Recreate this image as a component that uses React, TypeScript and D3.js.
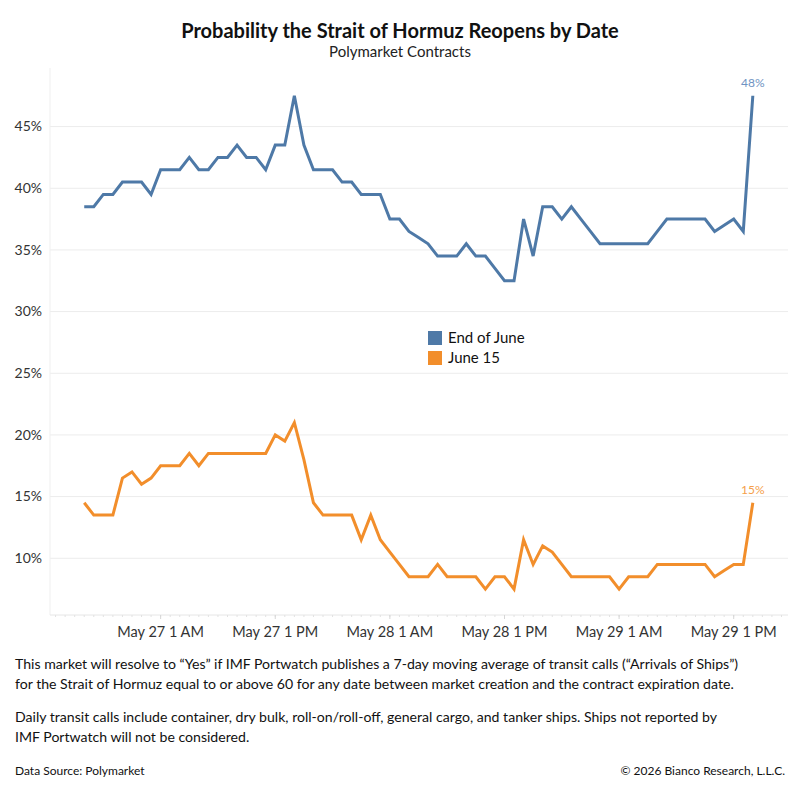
import * as d3 from 'd3';

// hourly Polymarket prices (%), May 26 5 PM -> May 29 3 PM
const startTime = new Date(2026, 4, 26, 17);
const endOfJune = [
  38.5, 38.5, 39.5, 39.5, 40.5, 40.5, 40.5, 39.5, 41.5, 41.5,
  41.5, 42.5, 41.5, 41.5, 42.5, 42.5, 43.5, 42.5, 42.5, 41.5,
  43.5, 43.5, 47.5, 43.5, 41.5, 41.5, 41.5, 40.5, 40.5, 39.5,
  39.5, 39.5, 37.5, 37.5, 36.5, 36.0, 35.5, 34.5, 34.5, 34.5,
  35.5, 34.5, 34.5, 33.5, 32.5, 32.5, 37.5, 34.5, 38.5, 38.5,
  37.5, 38.5, 37.5, 36.5, 35.5, 35.5, 35.5, 35.5, 35.5, 35.5,
  36.5, 37.5, 37.5, 37.5, 37.5, 37.5, 36.5, 37.0, 37.5, 36.5,
  47.5,
];
const june15 = [
  14.5, 13.5, 13.5, 13.5, 16.5, 17.0, 16.0, 16.5, 17.5, 17.5,
  17.5, 18.5, 17.5, 18.5, 18.5, 18.5, 18.5, 18.5, 18.5, 18.5,
  20.0, 19.5, 21.0, 18.0, 14.5, 13.5, 13.5, 13.5, 13.5, 11.5,
  13.5, 11.5, 10.5, 9.5, 8.5, 8.5, 8.5, 9.5, 8.5, 8.5,
  8.5, 8.5, 7.5, 8.5, 8.5, 7.5, 11.5, 9.5, 11.0, 10.5,
  9.5, 8.5, 8.5, 8.5, 8.5, 8.5, 7.5, 8.5, 8.5, 8.5,
  9.5, 9.5, 9.5, 9.5, 9.5, 9.5, 8.5, 9.0, 9.5, 9.5,
  14.5,
];
const endLabels = ['48%', '15%'];
const seriesNames = ['End of June', 'June 15'];
const colors = ['#4e79a7', '#f28e2b'];
const labelColors = ['#6f93c2', '#f5a04a'];
const yTicks = [10, 15, 20, 25, 30, 35, 40, 45];

const title = 'Probability the Strait of Hormuz Reopens by Date';
const subtitle = 'Polymarket Contracts';
const notes = [
  [
    'This market will resolve to \u201cYes\u201d if IMF Portwatch publishes a 7-day moving average of transit calls (\u201cArrivals of Ships\u201d)',
    'for the Strait of Hormuz equal to or above 60 for any date between market creation and the contract expiration date.',
  ],
  [
    'Daily transit calls include container, dry bulk, roll-on/roll-off, general cargo, and tanker ships. Ships not reported by',
    'IMF Portwatch will not be considered.',
  ],
];
const source = 'Data Source: Polymarket';
const copyright = '\u00a9 2026 Bianco Research, L.L.C.';

const W = 800;
const H = 800;
const left = 50;
const right = 788;
const top = 68;
const bottom = 615;
const font = 'Lato, "Open Sans", sans-serif';

export default function App() {
  const times = endOfJune.map((_, i) => d3.timeHour.offset(startTime, i));

  const x = d3
    .scaleTime()
    .domain([new Date(2026, 4, 26, 13, 25), new Date(2026, 4, 29, 18, 41)])
    .range([left, right]);
  const y = d3.scaleLinear().domain([5.4, 49.75]).range([bottom, top]);

  const line = d3
    .line<number>()
    .x((_, i) => x(times[i]))
    .y((d) => y(d));

  const minorTicks = d3.timeHour.range(x.domain()[0], x.domain()[1]);
  const majorTicks = minorTicks.filter((t) => t.getHours() === 1 || t.getHours() === 13);
  const fmt = (t: Date) => {
    const h = t.getHours();
    return `${d3.timeFormat('%b %-d')(t)} ${h % 12 === 0 ? 12 : h % 12} ${h < 12 ? 'AM' : 'PM'}`;
  };

  const series = [endOfJune, june15];
  const last = times.length - 1;

  return (
    <svg
      width={W}
      height={H}
      style={{ position: 'absolute', left: 0, top: 0, background: '#fff' }}
      fontFamily={font}
    >
      <text x={400} y={38} textAnchor="middle" fontSize={20} fontWeight={700} fill="#111">
        {title}
      </text>
      <text x={400} y={57} textAnchor="middle" fontSize={15} fill="#222">
        {subtitle}
      </text>

      {/* grid */}
      {yTicks.map((t) => (
        <g key={t}>
          <line x1={left} x2={right} y1={y(t)} y2={y(t)} stroke="#ececec" strokeWidth={1} />
          <text x={42} y={y(t)} dy="0.35em" textAnchor="end" fontSize={14} fill="#333">
            {t}%
          </text>
        </g>
      ))}
      <line x1={left} x2={left} y1={top} y2={bottom} stroke="#efefef" />
      <line x1={left} x2={right} y1={bottom} y2={bottom} stroke="#e6e6e6" />

      {/* x axis */}
      {minorTicks.map((t) => (
        <line key={+t} x1={x(t)} x2={x(t)} y1={bottom} y2={bottom + 2} stroke="#e2e2e2" />
      ))}
      {majorTicks.map((t) => (
        <g key={+t}>
          <line x1={x(t)} x2={x(t)} y1={bottom} y2={bottom + 4} stroke="#d6d6d6" />
          <text x={x(t)} y={637} textAnchor="middle" fontSize={14.5} fill="#333">
            {fmt(t)}
          </text>
        </g>
      ))}

      {/* lines */}
      {series.map((s, k) => (
        <g key={k}>
          <path d={line(s) ?? ''} fill="none" stroke={colors[k]} strokeWidth={3} strokeLinejoin="miter" />
          <text
            x={x(times[last])}
            y={y(s[last]) - 9}
            textAnchor="middle"
            fontSize={12}
            fill={labelColors[k]}
          >
            {endLabels[k]}
          </text>
        </g>
      ))}

      {/* legend */}
      {seriesNames.map((n, k) => (
        <g key={n} transform={`translate(428,${331 + k * 20})`}>
          <rect width={14} height={14} fill={colors[k]} />
          <text x={20} y={12} fontSize={15} fill="#111">
            {n}
          </text>
        </g>
      ))}

      {/* notes */}
      {notes.map((p, i) =>
        p.map((l, j) => (
          <text key={`${i}-${j}`} x={15} y={669 + i * 53 + j * 20} fontSize={14.1} fill="#111">
            {l}
          </text>
        ))
      )}
      <text x={15} y={775} fontSize={12} fill="#111">
        {source}
      </text>
      <text x={785} y={775} textAnchor="end" fontSize={12} fill="#111">
        {copyright}
      </text>
    </svg>
  );
}
